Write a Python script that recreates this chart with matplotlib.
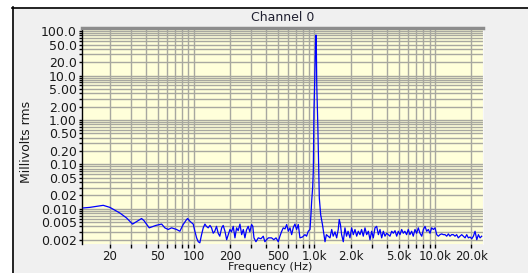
import numpy as np
import matplotlib
matplotlib.use('Agg')
import matplotlib.pyplot as plt
from matplotlib.lines import Line2D
from matplotlib.patches import Rectangle
from matplotlib.ticker import FixedLocator, NullFormatter

# spectrum (Hz, mV rms)
freq = [12.1, 13.7, 17.7, 20.1, 24.3, 27.6, 31.0, 36.8, 38.5, 42.6, 48.4, 54, 57.4, 61.2,
        65.3, 71.8, 76.5, 81.5, 87, 88.7, 92.7, 98.7, 101.9, 105.3, 108.6, 112, 115.8, 119.5,
        123.4, 127, 131.4, 136, 140, 144.6, 149, 154, 159, 164, 170, 175, 181, 187, 193, 199,
        205, 212, 219, 226, 233, 241, 249, 257, 265, 273, 282, 291, 301, 308,
        315, 327, 342, 360, 376, 388, 400, 415, 441, 460, 480, 501, 517, 535, 551, 570, 588,
        607, 627, 647, 668, 689, 711, 734, 758, 795, 834, 860, 888, 918,
        935, 948, 966, 978, 990, 1003, 1024, 1034, 1045, 1066, 1085, 1097, 1126, 1165, 1200,
        1223, 1256, 1345, 1390, 1430, 1480, 1528, 1575, 1605, 1642, 1680, 1734, 1790, 1845,
        1900, 1970, 2035, 2100, 2168, 2240, 2310, 2386, 2460, 2540, 2624, 2710, 2800, 2888,
        2980, 3077, 3177, 3280, 3390, 3497, 3610, 3725, 3846, 3970, 4098, 4230, 4373, 4510,
        4656, 4810, 4960, 5122, 5290, 5456, 5620, 5810, 5998, 6190, 6400, 6600, 6820, 7040,
        7270, 7500, 7760, 8010, 8262, 8530, 8800, 9090, 9380, 9690, 10000, 10330, 10660,
        11000, 11350, 11720, 12100, 12500, 12900, 13300, 13730, 14180, 14650, 15120, 15600,
        16100, 16650, 17180, 17750, 18320, 18900, 19530, 20170, 20820, 21480, 22200, 22900,
        23630, 24400]
mv = [0.0104, 0.0107, 0.0119, 0.0107, 0.0080, 0.0062, 0.0045, 0.0060, 0.0054, 0.0037, 0.0042, 0.0045, 0.0037, 0.0034,
      0.0037, 0.0034, 0.0031, 0.0044, 0.0057, 0.0060, 0.0052, 0.0045, 0.0031, 0.0022, 0.0018, 0.0017, 0.0026, 0.0037,
      0.0045, 0.0040, 0.0037, 0.0042, 0.0037, 0.0028, 0.0031, 0.0040, 0.0028, 0.0024, 0.0037, 0.0042, 0.0031, 0.0020, 0.0026, 0.0034,
      0.0030, 0.0040, 0.0022, 0.0037, 0.0032, 0.0045, 0.0026, 0.0034, 0.0022, 0.0033, 0.0040, 0.0030, 0.0044, 0.0040,
      0.0022, 0.0018, 0.0022, 0.0021, 0.0024, 0.0018, 0.0020, 0.0022, 0.0022, 0.0020, 0.0022, 0.0018, 0.0024, 0.0031, 0.0037, 0.0035, 0.0044,
      0.0031, 0.0037, 0.0026, 0.0038, 0.0045, 0.0034, 0.0044, 0.0022, 0.0023, 0.0026, 0.0024, 0.0031, 0.0034,
      0.0073, 0.0146, 0.030, 0.069, 1.54, 6.1, 81, 81, 6.1, 0.77, 0.069, 0.0174, 0.0073, 0.0044, 0.0026,
      0.0018, 0.0026, 0.0022, 0.0034, 0.0024, 0.0030, 0.0022, 0.0034, 0.0057, 0.0044, 0.0026, 0.0018, 0.0037, 0.0024,
      0.0031, 0.0022, 0.0037, 0.0026, 0.0034, 0.0024, 0.0031, 0.0026, 0.0034, 0.0024, 0.0037, 0.0026, 0.0031, 0.0020,
      0.0031, 0.0022, 0.0037, 0.0040, 0.0026, 0.0034, 0.0022, 0.0031, 0.0024, 0.0028, 0.0026, 0.0024, 0.0031, 0.0028,
      0.0032, 0.0024, 0.0031, 0.0026, 0.0034, 0.0028, 0.0031, 0.0026, 0.0034, 0.0026, 0.0031, 0.0024, 0.0034, 0.0028,
      0.0037, 0.0028, 0.0024, 0.0034, 0.0040, 0.0031, 0.0034, 0.0028, 0.0037, 0.0034, 0.0037, 0.0026, 0.0024,
      0.0026, 0.0027, 0.0026, 0.0026, 0.0024, 0.0027, 0.0024, 0.0026, 0.0026, 0.0024, 0.0026, 0.0022,
      0.0024, 0.0026, 0.0024, 0.0022, 0.0026, 0.0022, 0.0023, 0.0021, 0.0024, 0.0031, 0.0020, 0.0026,
      0.0022, 0.0024]

xmajor = [20, 50, 100, 200, 500, 1000, 2000, 5000, 10000, 20000]
xlabels = ['20', '50', '100', '200', '500', '1.0k', '2.0k', '5.0k', '10.0k', '20.0k']
ymajor = [100, 50, 20, 10, 5, 2, 1, 0.5, 0.2, 0.1, 0.05, 0.02, 0.01, 0.005, 0.002]
ylabels = ['100.0', '50.0', '20.0', '10.0', '5.00', '2.00', '1.00', '0.50', '0.20', '0.10',
           '0.05', '0.02', '0.010', '0.005', '0.002']

W, H = 528, 273
fig = plt.figure(figsize=(W/100, H/100), dpi=100, facecolor='white')

# grey panel with black top/left border
fig.add_artist(Rectangle((12/W, 0), 1, 1-7/H, transform=fig.transFigure,
                         facecolor='#f0f0f0', edgecolor='none', zorder=0))
fig.add_artist(Line2D([12/W, 1], [1-7.5/H, 1-7.5/H], transform=fig.transFigure, color='black', lw=1.2))
fig.add_artist(Line2D([12.5/W, 12.5/W], [0, 1-7/H], transform=fig.transFigure, color='black', lw=1.2))

ax = fig.add_axes([82/W, 29/H, 401/W, 216/H])
ax.set_facecolor('#ffffda')
ax.plot(freq, mv, color='#0000ff', lw=0.9, zorder=3)
ax.set_xscale('log')
ax.set_yscale('log')
ax.set_xlim(11.8, 25000)
ax.set_ylim(0.0016, 118)

xgrid = [m*10**d for d in range(1, 5) for m in range(1, 10) if 11.8 < m*10**d < 25000]
ygrid = [m*10.0**d for d in range(-3, 3) for m in range(1, 10) if 0.0016 < m*10.0**d < 118]
ax.xaxis.set_major_locator(FixedLocator(xmajor))
ax.xaxis.set_minor_locator(FixedLocator([v for v in xgrid if v not in xmajor]))
ax.set_xticklabels(xlabels)
ax.xaxis.set_minor_formatter(NullFormatter())
ax.yaxis.set_major_locator(FixedLocator(ymajor))
ax.yaxis.set_minor_locator(FixedLocator([v for v in ygrid if min(abs(v/m-1) for m in ymajor) > 1e-6]))
ax.set_yticklabels(ylabels)
ax.yaxis.set_minor_formatter(NullFormatter())

ax.grid(True, which='both', color='#a8a8a0', lw=1.0, zorder=1)
ax.set_axisbelow(True)
ax.tick_params(axis='x', which='both', direction='out', length=3, width=1, color='black',
               pad=1.2, labelsize=8.5, labelcolor='#1a1a1a')
ax.tick_params(axis='y', which='both', direction='out', length=2.2, width=1, color='black',
               pad=1.5, labelsize=9, labelcolor='#1a1a1a')

ax.spines['left'].set_color('black')
ax.spines['left'].set_linewidth(1)
ax.spines['top'].set_color('#8c8c8c')
ax.spines['top'].set_linewidth(2.5)
ax.spines['right'].set_color('#f8f8f8')
ax.spines['bottom'].set_visible(False)

fig.text(282.5/W, 1-17.5/H, 'Channel 0', ha='center', va='center', fontsize=9, color='#202030')
fig.text(27/W, 1-142/H, 'Millivolts rms', ha='center', va='center', rotation=90, fontsize=9, color='#1a1a1a')
fig.text(270/W, 0.5/H, 'Frequency (Hz)', ha='center', va='bottom', fontsize=8, color='#1a1a1a')

plt.savefig('out.png', dpi=100, facecolor='white')
